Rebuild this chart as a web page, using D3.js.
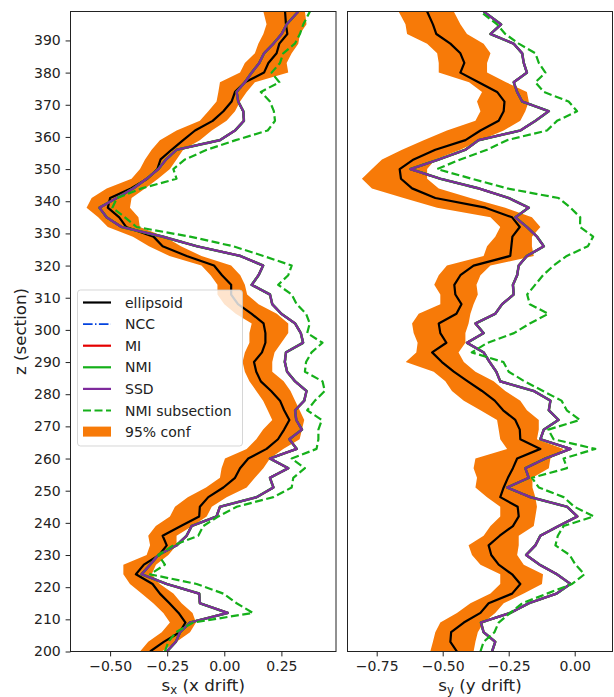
<!DOCTYPE html>
<html><head><meta charset="utf-8">
<script src="https://cdn.jsdelivr.net/npm/d3@7"></script>
<style>body{margin:0;background:#fff}svg{display:block}text{font-family:"DejaVu Sans",sans-serif}</style>
</head><body><svg id="c" width="614" height="697"></svg>
<script>
// z positions (section) of the sampled values
const zValues = [200,203,206,209,212,215,218,221,224,227,230,233,236,239,242,245,248,251,254,257,260,263,
  266,269,272,275,278,281,284,287,290,293,296,299,302,305,308,311,314,317,320,323,326,329,332,
  335,338,341,344,347,350,353,356,359,362,365,368,371,374,377,380,383,386,389,392,395,399];

// ---- s_x panel ----
const sxEllipsoid = [-0.325,-0.265,-0.195,-0.170,-0.200,-0.240,-0.282,-0.314,-0.387,-0.352,-0.285,-0.252,-0.270,-0.190,-0.110,-0.107,-0.070,-0.004,0.047,0.069,0.105,0.185,
  0.235,0.262,0.285,0.262,0.244,0.205,0.160,0.140,0.130,0.165,0.180,0.180,0.172,0.120,0.060,0.030,0.030,-0.010,-0.045,-0.165,-0.270,-0.310,-0.430,
  -0.460,-0.510,-0.500,-0.409,-0.337,-0.293,-0.279,-0.231,-0.180,-0.128,-0.051,-0.004,0.032,0.047,0.090,0.174,0.193,0.229,0.241,0.276,0.270,0.266];
const sxConfLow = [-0.369,-0.333,-0.274,-0.238,-0.267,-0.311,-0.362,-0.413,-0.442,-0.442,-0.340,-0.325,-0.333,-0.300,-0.238,-0.216,-0.160,-0.080,-0.019,-0.012,0.003,0.098,
  0.14,0.17,0.21,0.19,0.17,0.14,0.11,0.09,0.08,0.09,0.11,0.11,0.12,0.05,0.00,-0.03,-0.03,-0.06,-0.10,-0.24,-0.33,-0.40,-0.51,
  -0.552,-0.603,-0.581,-0.515,-0.406,-0.369,-0.347,-0.318,-0.282,-0.209,-0.107,-0.070,-0.034,-0.026,-0.019,0.069,0.090,0.134,0.149,0.171,0.185,0.171];
const sxConfHigh = [-0.274,-0.209,-0.150,-0.124,-0.139,-0.187,-0.223,-0.282,-0.318,-0.299,-0.245,-0.209,-0.209,-0.140,-0.077,-0.055,0.010,0.098,0.134,0.171,0.200,0.258,
  0.33,0.34,0.35,0.33,0.31,0.29,0.26,0.21,0.21,0.22,0.25,0.28,0.28,0.23,0.15,0.10,0.09,0.07,0.03,-0.10,-0.19,-0.26,-0.37,
  -0.376,-0.413,-0.406,-0.347,-0.290,-0.238,-0.209,-0.180,-0.107,-0.055,0.010,0.047,0.069,0.098,0.134,0.280,0.273,0.295,0.324,0.331,0.360,0.353];
const sxSSD = [-0.252,-0.212,-0.194,-0.150,0.015,-0.107,-0.110,-0.252,-0.362,-0.325,-0.289,-0.209,-0.165,-0.143,-0.034,-0.019,0.142,0.215,0.200,0.280,0.200,0.317,
  0.285,0.34,0.315,0.31,0.35,0.36,0.31,0.275,0.265,0.27,0.345,0.335,0.31,0.25,0.21,0.20,0.12,0.15,0.17,0.07,-0.12,-0.27,-0.45,
  -0.515,-0.547,-0.471,-0.398,-0.340,-0.289,-0.255,-0.209,-0.019,0.047,0.086,0.083,0.061,0.054,0.09,0.120,0.153,0.174,0.215,0.251,0.273,0.324];
const sxNMI = sxSSD, sxNCC = sxSSD, sxMI = sxSSD; // coincide with SSD in the picture
const sxNMISub = [-0.260,-0.245,-0.212,-0.136,0.125,0.054,-0.004,-0.121,-0.325,-0.260,-0.289,-0.223,-0.114,-0.092,-0.026,0.054,0.215,0.295,0.302,0.353,0.295,0.404,
  0.412,0.412,0.427,0.363,0.397,0.44,0.43,0.353,0.358,0.382,0.43,0.363,0.374,0.358,0.317,0.295,0.236,0.280,0.295,0.171,0.039,-0.150,-0.384,
  -0.435,-0.49,-0.47,-0.362,-0.209,-0.223,-0.172,-0.077,0.05,0.19,0.222,0.217,0.200,0.16,0.241,0.207,0.244,0.258,0.309,0.331,0.346,0.375];

// ---- s_y panel ----
const syEllipsoid = [-0.446,-0.471,-0.468,-0.420,-0.357,-0.326,-0.237,-0.206,-0.237,-0.288,-0.316,-0.326,-0.284,-0.234,-0.212,-0.216,-0.282,-0.269,-0.253,-0.234,-0.218,-0.130,
  -0.206,-0.208,-0.225,-0.271,-0.303,-0.351,-0.405,-0.458,-0.503,-0.540,-0.486,-0.509,-0.515,-0.448,-0.429,-0.452,-0.456,-0.433,-0.383,-0.244,-0.240,-0.236,-0.208,
  -0.237,-0.338,-0.528,-0.616,-0.658,-0.663,-0.610,-0.528,-0.414,-0.357,-0.288,-0.269,-0.266,-0.294,-0.364,-0.433,-0.418,-0.433,-0.471,-0.524,-0.537,-0.559];
const syConfLow = [-0.547,-0.537,-0.528,-0.509,-0.446,-0.395,-0.319,-0.282,-0.282,-0.357,-0.389,-0.402,-0.345,-0.319,-0.282,-0.282,-0.332,-0.376,-0.370,-0.383,-0.376,-0.256,
  -0.282,-0.288,-0.294,-0.357,-0.420,-0.465,-0.490,-0.534,-0.640,-0.600,-0.595,-0.610,-0.616,-0.591,-0.509,-0.509,-0.532,-0.515,-0.484,-0.345,-0.332,-0.301,-0.282,
  -0.319,-0.521,-0.648,-0.768,-0.806,-0.768,-0.730,-0.654,-0.572,-0.484,-0.376,-0.357,-0.370,-0.351,-0.400,-0.515,-0.515,-0.521,-0.559,-0.635,-0.641,-0.667];
const syConfHigh = [-0.383,-0.376,-0.367,-0.345,-0.301,-0.269,-0.193,-0.124,-0.120,-0.193,-0.218,-0.212,-0.212,-0.155,-0.149,-0.143,-0.149,-0.160,-0.160,-0.098,-0.092,-0.042,
  -0.143,-0.136,-0.136,-0.181,-0.206,-0.263,-0.307,-0.376,-0.420,-0.440,-0.414,-0.414,-0.402,-0.395,-0.383,-0.367,-0.372,-0.357,-0.319,-0.155,-0.162,-0.162,-0.130,
  -0.162,-0.263,-0.395,-0.515,-0.559,-0.559,-0.528,-0.433,-0.357,-0.269,-0.206,-0.187,-0.174,-0.181,-0.260,-0.332,-0.332,-0.319,-0.345,-0.408,-0.433,-0.458];
const sySSD = [-0.313,-0.301,-0.345,-0.355,-0.244,-0.174,-0.069,-0.016,-0.067,-0.133,-0.184,-0.149,-0.130,-0.061,0.010,-0.029,-0.168,-0.256,-0.174,-0.187,-0.111,-0.016,
  -0.130,-0.117,-0.061,-0.098,-0.092,-0.155,-0.282,-0.297,-0.322,-0.345,-0.408,-0.345,-0.376,-0.301,-0.275,-0.231,-0.234,-0.218,-0.212,-0.181,-0.117,-0.143,-0.181,
  -0.225,-0.174,-0.250,-0.364,-0.509,-0.622,-0.515,-0.414,-0.364,-0.206,-0.149,-0.098,-0.199,-0.218,-0.231,-0.181,-0.193,-0.199,-0.231,-0.319,-0.279,-0.345];
const syNMI = sySSD, syNCC = sySSD, syMI = sySSD;
const syNMISub = [-0.357,-0.345,-0.304,-0.288,-0.244,-0.199,-0.105,-0.010,0.037,0.003,-0.019,-0.073,-0.064,-0.042,0.072,-0.001,-0.042,-0.136,-0.162,-0.029,-0.042,0.078,
  -0.08,-0.10,0.02,-0.03,-0.05,-0.12,-0.19,-0.25,-0.27,-0.39,-0.33,-0.23,-0.17,-0.10,-0.17,-0.18,-0.15,-0.12,-0.08,-0.03,0.05,0.07,0.02,
  0.021,-0.016,-0.061,-0.256,-0.39,-0.521,-0.433,-0.332,-0.256,-0.105,-0.067,0.009,-0.023,-0.117,-0.149,-0.111,-0.136,-0.149,-0.212,-0.263,-0.294,-0.357];

// ticks and labels
const zTicks = [200,210,220,230,240,250,260,270,280,290,300,310,320,330,340,350,360,370,380,390];
const sxTicks = [-0.5,-0.25,0,0.25];
const syTicks = [-0.75,-0.5,-0.25,0];
const legendLabels = ["ellipsoid","NCC","MI","NMI","SSD","NMI subsection","95% conf"];
const yLabel = "z (section)";

// ---------- drawing ----------
const C = {orange:"#f77a08", black:"#000000", blue:"#0343df", red:"#e50000", green:"#15b01a", purple:"#7e2a9c"};
const LW = 2.2;
const svg = d3.select("#c");
svg.append("rect").attr("width",614).attr("height",697).attr("fill","#fff");
const yTop = 11.5, yBottom = 651.5;
const y = d3.scaleLinear().domain([200, 399]).range([yBottom, yTop]);

const panels = [
  {id:"px", x0:70.5, x1:336, dom:[-0.6734,0.4891], ticks:sxTicks, ell:sxEllipsoid, lo:sxConfLow, hi:sxConfHigh,
   ncc:sxNCC, mi:sxMI, nmi:sxNMI, ssd:sxSSD, sub:sxNMISub, lab:"x", yAxis:true},
  {id:"py", x0:347.5, x1:612.5, dom:[-0.8606,0.1432], ticks:syTicks, ell:syEllipsoid, lo:syConfLow, hi:syConfHigh,
   ncc:syNCC, mi:syMI, nmi:syNMI, ssd:sySSD, sub:syNMISub, lab:"y", yAxis:false}
];

const defs = svg.append("defs");
panels.forEach(p => {
  const x = d3.scaleLinear().domain(p.dom).range([p.x0, p.x1]);
  defs.append("clipPath").attr("id","clip-"+p.id).append("rect")
    .attr("x",p.x0).attr("y",yTop).attr("width",p.x1-p.x0).attr("height",yBottom-yTop);
  const g = svg.append("g").attr("clip-path","url(#clip-"+p.id+")");
  const idx = d3.range(zValues.length);
  const area = d3.area().y(i=>y(zValues[i])).x0(i=>x(p.lo[i])).x1(i=>x(p.hi[i]));
  g.append("path").attr("d",area(idx)).attr("fill",C.orange);
  const line = arr => d3.line().x(i=>x(arr[i])).y(i=>y(zValues[i]))(idx);
  const draw = (arr,col,w,dash) => g.append("path").attr("d",line(arr)).attr("fill","none")
      .attr("stroke",col).attr("stroke-width",w).attr("stroke-linejoin","round")
      .attr("stroke-dasharray",dash||null);
  draw(p.ell,C.black,LW);
  draw(p.ncc,C.blue,LW,"9.6,2.4,1.5,2.4");
  draw(p.mi,C.red,LW);
  draw(p.nmi,C.green,LW+0.4);
  draw(p.ssd,C.purple,LW);
  draw(p.sub,C.green,LW,"8,3.5");

  svg.append("rect").attr("x",p.x0).attr("y",yTop).attr("width",p.x1-p.x0).attr("height",yBottom-yTop)
    .attr("fill","none").attr("stroke","#222").attr("stroke-width",1);

  const ax = svg.append("g").attr("transform",`translate(0,${yBottom})`)
    .call(d3.axisBottom(x).tickValues(p.ticks).tickFormat(d3.format(".2f")).tickSize(4.9).tickPadding(4.5));
  ax.select(".domain").remove();
  ax.selectAll("line").attr("stroke","#222");
  ax.selectAll("text").attr("font-size",14).attr("fill","#222").style("font-family","DejaVu Sans");

  const xl = svg.append("text").attr("x",(p.x0+p.x1)/2).attr("y",691).attr("text-anchor","middle")
    .attr("font-size",16.7).attr("fill","#222");
  xl.append("tspan").text("s");
  xl.append("tspan").attr("font-size",11.7).attr("dy",3).text(p.lab);
  xl.append("tspan").attr("dy",-3).text(` (${p.lab} drift)`);

  if (p.yAxis) {
    const ay = svg.append("g").attr("transform",`translate(${p.x0},0)`)
      .call(d3.axisLeft(y).tickValues(zTicks).tickFormat(d3.format("d")).tickSize(4.9).tickPadding(4.9));
    ay.select(".domain").remove();
    ay.selectAll("line").attr("stroke","#222");
    ay.selectAll("text").attr("font-size",14).attr("fill","#222").style("font-family","DejaVu Sans");
    svg.append("text").attr("transform",`translate(26,${(yTop+yBottom)/2}) rotate(-90)`)
      .attr("text-anchor","middle").attr("font-size",16.7).attr("fill","#222").text(yLabel);
  }
});

// legend
const lg = svg.append("g");
lg.append("rect").attr("x",77.5).attr("y",290).attr("width",165).attr("height",156).attr("rx",3)
  .attr("fill","#fff").attr("fill-opacity",0.8).attr("stroke","#ccc").attr("stroke-opacity",0.8);
const styles = [
  {c:C.black,w:LW},{c:C.blue,w:1.8,d:"9.6,2.4,1.5,2.4"},{c:C.red,w:LW},{c:C.green,w:LW},
  {c:C.purple,w:LW},{c:C.green,w:LW,d:"8,3.5"},{c:C.orange,fill:true}
];
legendLabels.forEach((t,i) => {
  const cy = 302.5 + i*21.6;
  const s = styles[i];
  if (s.fill) lg.append("rect").attr("x",83).attr("y",cy-5.5).attr("width",28).attr("height",10).attr("fill",s.c);
  else lg.append("line").attr("x1",83).attr("x2",111).attr("y1",cy).attr("y2",cy)
      .attr("stroke",s.c).attr("stroke-width",s.w).attr("stroke-dasharray",s.d||null);
  lg.append("text").attr("x",125).attr("y",cy).attr("dy","0.36em").attr("font-size",14).attr("fill","#222").text(t);
});
</script></body></html>
